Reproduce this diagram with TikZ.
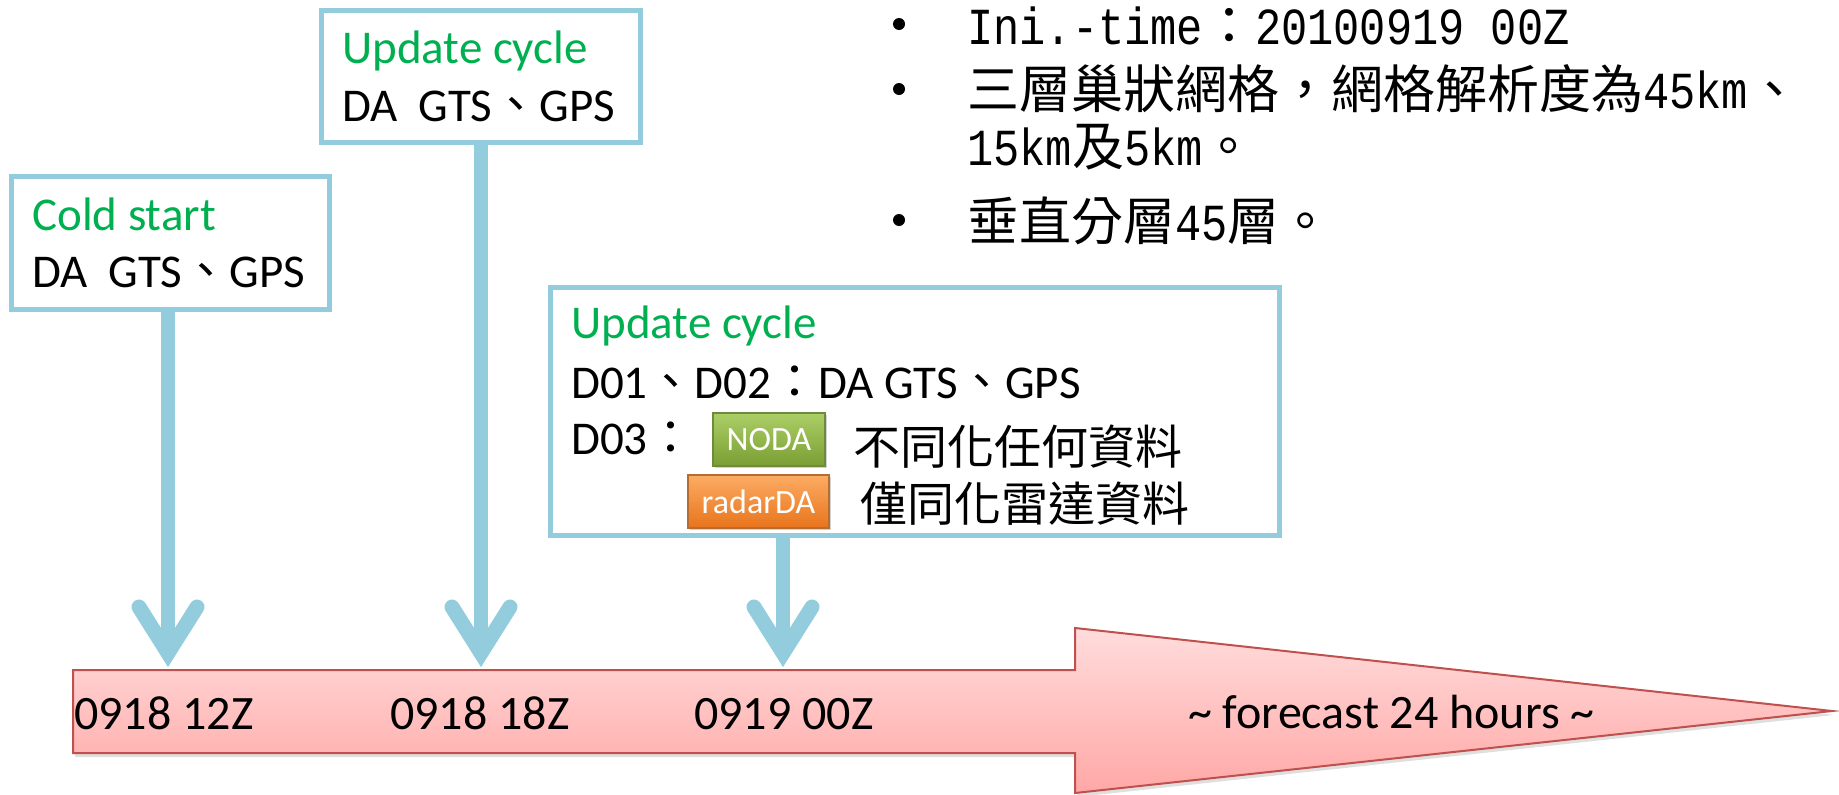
\documentclass[tikz,border=0pt]{standalone}
\usepackage{fontspec}
\setmainfont{Carlito}
\newfontfamily\cjk{Noto Sans CJK TC}
\newfontfamily\mono{Liberation Mono}[FakeStretch=0.84]
\usetikzlibrary{calc,shadows}
\definecolor{lblue}{RGB}{147,205,221}
\definecolor{tgreen}{RGB}{0,176,80}
\definecolor{aborder}{RGB}{192,80,77}
\definecolor{atop}{RGB}{255,220,220}
\definecolor{abot}{RGB}{255,168,166}
\definecolor{ngtop}{RGB}{172,206,102}
\definecolor{ngbot}{RGB}{122,158,52}
\definecolor{ngborder}{RGB}{113,137,63}
\definecolor{ortop}{RGB}{252,172,100}
\definecolor{orbot}{RGB}{232,116,28}
\definecolor{orborder}{RGB}{182,109,49}
\begin{document}
\begin{tikzpicture}[x=1pt,y=-1pt,
  box/.style={draw=lblue, line width=5pt, fill=white, inner sep=0pt},
  lbl/.style={font=\fontsize{47}{56}\selectfont, anchor=base west, inner sep=0pt},
  ttl/.style={lbl, text=tgreen},
  tlab/.style={font=\fontsize{48}{56}\selectfont, anchor=base west, inner sep=0pt},
  blt/.style={font=\fontsize{52}{60}\selectfont, anchor=base west, inner sep=0pt},
  kai/.style={font=\fontsize{47}{56}\selectfont\cjk, anchor=west, inner sep=0pt},
  dot/.style={circle, fill=black, inner sep=0pt, minimum size=12pt},
  tag/.style={font=\fontsize{34}{40}\selectfont, text=white, inner sep=0pt, line width=1.5pt, drop shadow={opacity=0.35, shadow xshift=2pt, shadow yshift=-2pt}},
  shaft/.style={draw=lblue, line width=14pt},
  vhead/.style={draw=lblue, line width=15pt, line cap=round, line join=miter}]
\useasboundingbox (0,0) rectangle (1839,795);

% big timeline arrow
\draw[draw=aborder, line width=2pt, top color=atop, bottom color=abot,
      drop shadow={opacity=0.25, shadow xshift=2pt, shadow yshift=-4pt}]
  (73,670) -- (1075,670) -- (1075,628) -- (1832,711) -- (1075,793) -- (1075,753) -- (73,753) -- cycle;
\coordinate (t1) at (168,671);
\coordinate (t2) at (481,671);
\coordinate (t3) at (783,671);

\node[tlab] (l12) at (74,729) {0918 12Z};
\node[tlab] (l18) at (390,729) {0918 18Z};
\node[tlab] (l00) at (694,729) {0919 00Z};
\node[tlab] (fc) at (1188,728) {\char`\~{} forecast 24 hours \char`\~};

% boxes
\node[box, minimum width=318pt, minimum height=133pt] (cs) at (170.5,243) {};
\node[box, minimum width=319pt, minimum height=132pt] (u1) at (481,76.5) {};
\node[box, minimum width=729pt, minimum height=248pt] (u2) at (915,411.5) {};

\node[ttl] (cst) at (32,230) {Cold start};
\node[lbl] (csd) at (32,287) {DA\ \ GTS{\cjk 、}GPS};

\node[ttl] (u1t) at (342,63) {Update cycle};
\node[lbl] (u1d) at (342,121) {DA\ \ GTS{\cjk 、}GPS};

\node[ttl] (u2t) at (571,338) {Update cycle};
\node[lbl] (u2a) at (571,398) {D01{\cjk 、}D02{\cjk ：}DA GTS{\cjk 、}GPS};
\node[lbl] (u2b) at (571,454) {D03{\cjk ：}};
\node[tag, draw=ngborder, top color=ngtop, bottom color=ngbot, minimum width=112pt, minimum height=53pt] (noda) at (769,439.5) {NODA};
\node[tag, draw=orborder, top color=ortop, bottom color=orbot, minimum width=141pt, minimum height=53pt] (radar) at (758.5,501.5) {radarDA};
\node[kai] (k1) at (853,447) {不同化任何資料};
\node[kai] (k2) at (860,504) {僅同化雷達資料};

% connectors
\draw[shaft] (cs.south -| t1) -- ($(t1)+(0,-25)$);
\draw[vhead] ($(t1)+(-29,-64)$) -- ($(t1)+(0,-18)$) -- ($(t1)+(29,-64)$);
\draw[shaft] (u1.south -| t2) -- ($(t2)+(0,-25)$);
\draw[vhead] ($(t2)+(-29,-64)$) -- ($(t2)+(0,-18)$) -- ($(t2)+(29,-64)$);
\draw[shaft] (u2.south -| t3) -- ($(t3)+(0,-25)$);
\draw[vhead] ($(t3)+(-29,-64)$) -- ($(t3)+(0,-18)$) -- ($(t3)+(29,-64)$);

% bullet list
\node[dot] (b1) at (899,24) {};
\node[dot] (b2) at (899,89) {};
\node[dot] (b3) at (899,220) {};
\node[blt, text height=32pt] (p1) at (967,44) {{\mono Ini.-time}{\cjk ：}{\mono 20100919 00Z}};
\node[blt] (p2) at (967,108) {{\cjk 三層巢狀網格，網格解析度為}{\mono 45km}{\cjk 、}};
\node[blt] (p3) at (967,165) {{\mono 15km}{\cjk 及}{\mono 5km}{\cjk 。}};
\node[blt] (p4) at (967,240) {{\cjk 垂直分層}{\mono 45}{\cjk 層。}};
\end{tikzpicture}
\end{document}
